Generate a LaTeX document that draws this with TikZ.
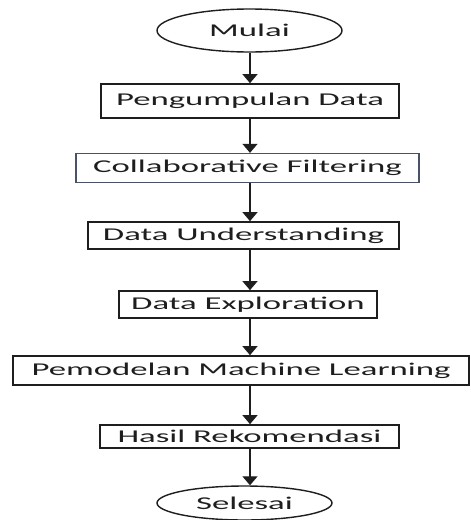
\documentclass[tikz,border=0pt]{standalone}
\usepackage{fontspec}
\setmainfont{Carlito}[FakeStretch=1.93]
\usetikzlibrary{arrows.meta,shapes.geometric}
\definecolor{ink}{RGB}{30,30,30}
\definecolor{slate}{RGB}{72,82,104}
\tikzset{
  stepbox/.style={draw=ink, line width=1.7pt, inner sep=0pt, rectangle,
    font=\fontsize{18}{20}\selectfont, text=ink},
  term/.style={draw=ink, line width=1.4pt, ellipse, inner sep=0pt,
    font=\fontsize{18}{20}\selectfont, text=ink},
  flow/.style={draw=ink, line width=1.2pt,
    -{Triangle[width=15pt,length=9pt]}}
}
\begin{document}
\begin{tikzpicture}[x=1pt,y=-1pt]
\useasboundingbox (0,0) rectangle (471,520);
\coordinate (col) at (250,0);
\node[term, minimum width=185pt, minimum height=43pt] (mulai) at (249.5,30.5) {Mulai};
\node[stepbox, minimum width=298pt, minimum height=34pt] (kumpul) at (250,101) {Pengumpulan Data};
\node[stepbox, draw=slate, line width=1.3pt, minimum width=343pt, minimum height=29pt] (cf) at (247.5,168) {Collaborative Filtering};
\node[stepbox, minimum width=311pt, minimum height=27pt] (du) at (243.5,235.5) {Data Understanding};
\node[stepbox, minimum width=258pt, minimum height=27pt] (de) at (248,304.5) {Data Exploration};
\node[stepbox, minimum width=456pt, minimum height=29pt] (ml) at (241,370.5) {Pemodelan Machine Learning};
\node[stepbox, minimum width=299pt, minimum height=23pt] (hasil) at (249.5,436.5) {Hasil Rekomendasi};
\node[term, minimum width=175pt, minimum height=34pt] (selesai) at (244.5,503) {Selesai};
\draw[flow] (mulai.south -| col) -- (kumpul.north -| col);
\draw[flow] (kumpul.south -| col) -- (cf.north -| col);
\draw[flow] (cf.south -| col) -- (du.north -| col);
\draw[flow] (du.south -| col) -- (de.north -| col);
\draw[flow] (de.south -| col) -- (ml.north -| col);
\draw[flow] (ml.south -| col) -- (hasil.north -| col);
\draw[flow] (hasil.south -| col) -- (selesai.north -| col);
\end{tikzpicture}
\end{document}
